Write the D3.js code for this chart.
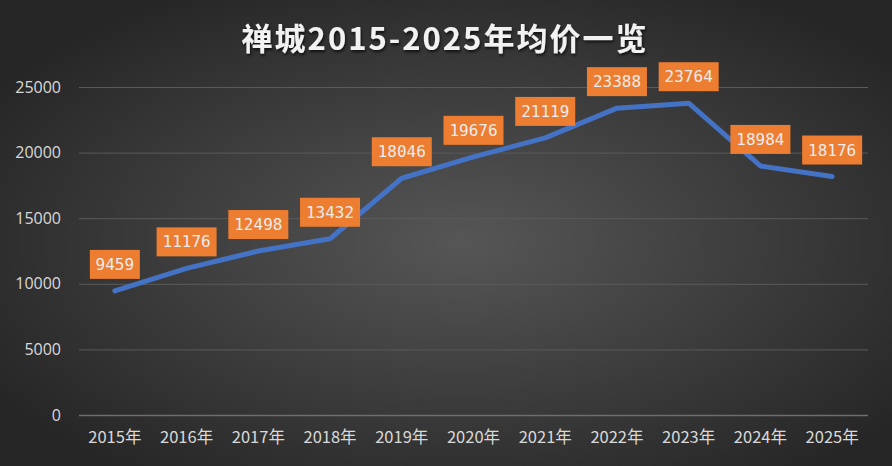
<!DOCTYPE html>
<html lang="zh">
<head>
<meta charset="UTF-8">
<title>禅城2015-2025年均价一览</title>
<script src="https://cdn.jsdelivr.net/npm/d3@7"></script>
<style>
  html, body { margin: 0; padding: 0; background: #262626; }
  svg { display: block; }
</style>
</head>
<body>
<div id="chart"></div>
<script>
  const years = ['2015年','2016年','2017年','2018年','2019年','2020年','2021年','2022年','2023年','2024年','2025年']
  const prices = [9459, 11176, 12498, 13432, 18046, 19676, 21119, 23388, 23764, 18984, 18176]
  const yTicks = [0, 5000, 10000, 15000, 20000, 25000]

  const width = 892, height = 466
  const margin = {top: 87, right: 24, bottom: 51, left: 79}

  const svg = d3.select('#chart').append('svg')
    .attr('width', width)
    .attr('height', height)

  const defs = svg.append('defs')
  const bg = defs.append('radialGradient')
    .attr('id', 'bgGrad')
    .attr('cx', '52%').attr('cy', '52%').attr('r', '62%')
  bg.append('stop').attr('offset', '0%').style('stop-color', '#565656')
  bg.append('stop').attr('offset', '100%').style('stop-color', '#262626')

  const shadow = defs.append('filter').attr('id', 'titleShadow')
  shadow.append('feDropShadow')
    .attr('dx', 1).attr('dy', 2).attr('stdDeviation', 1.5)
    .attr('flood-color', '#000').attr('flood-opacity', 0.7)

  svg.append('rect')
    .attr('width', width).attr('height', height)
    .attr('fill', 'url(#bgGrad)')

  svg.append('text')
    .attr('x', width / 2 - 1)
    .attr('y', 50)
    .attr('text-anchor', 'middle')
    .attr('fill', '#f2f2f2')
    .attr('font-family', '"Noto Sans CJK SC", "Noto Sans", sans-serif')
    .attr('font-size', 31)
    .attr('font-weight', 700)
    .attr('letter-spacing', 2)
    .attr('filter', 'url(#titleShadow)')
    .text('禅城2015-2025年均价一览')

  const x = d3.scaleBand()
    .domain(years)
    .range([margin.left, width - margin.right])

  const y = d3.scaleLinear()
    .domain([0, 25000])
    .range([height - margin.bottom, margin.top])

  // 가로 그리드
  const yAxis = svg.append('g')
    .attr('class', 'y-axis')
    .attr('transform', `translate(${margin.left},0)`)
    .call(d3.axisLeft(y).tickValues(yTicks).tickFormat(d3.format('d'))
      .tickSize(-(width - margin.left - margin.right)).tickPadding(18))
  yAxis.select('.domain').remove()
  yAxis.selectAll('line')
    .attr('stroke', d => d === 0 ? '#6e6e6e' : '#5a5a5a')
    .attr('stroke-width', d => d === 0 ? 1.5 : 1)
  yAxis.selectAll('text')
    .attr('fill', '#d9d9d9')
    .attr('font-size', 16)
    .attr('font-family', '"Open Sans", "Noto Sans", sans-serif')

  const xAxis = svg.append('g')
    .attr('class', 'x-axis')
    .attr('transform', `translate(0,${height - margin.bottom})`)
    .call(d3.axisBottom(x).tickSize(0).tickPadding(16))
  xAxis.select('.domain').remove()
  xAxis.selectAll('text')
    .attr('fill', '#d9d9d9')
    .attr('font-size', 16.5)
    .attr('font-family', '"Noto Sans CJK SC", "Noto Sans", sans-serif')

  const cx = d => x(d) + x.bandwidth() / 2

  const line = d3.line()
    .x((d, i) => cx(years[i]))
    .y(d => y(d))

  svg.append('path')
    .datum(prices)
    .attr('d', line)
    .attr('fill', 'none')
    .attr('stroke', '#4472c4')
    .attr('stroke-width', 5)
    .attr('stroke-linecap', 'round')
    .attr('stroke-linejoin', 'round')

  // 데이터 라벨
  const labels = svg.append('g').selectAll('g')
    .data(prices)
    .join('g')
    .attr('transform', (d, i) => `translate(${cx(years[i])},${y(d) - 12})`)

  labels.append('rect')
    .attr('x', d => -(String(d).length * 10 + 10) / 2)
    .attr('y', -29)
    .attr('width', d => String(d).length * 10 + 10)
    .attr('height', 29)
    .attr('fill', '#ed7d31')

  labels.append('text')
    .attr('x', 0)
    .attr('y', -9)
    .attr('text-anchor', 'middle')
    .attr('fill', '#ececec')
    .attr('font-size', 16)
    .attr('font-family', '"DejaVu Sans Mono", monospace')
    .text(d => d)
</script>
</body>
</html>
